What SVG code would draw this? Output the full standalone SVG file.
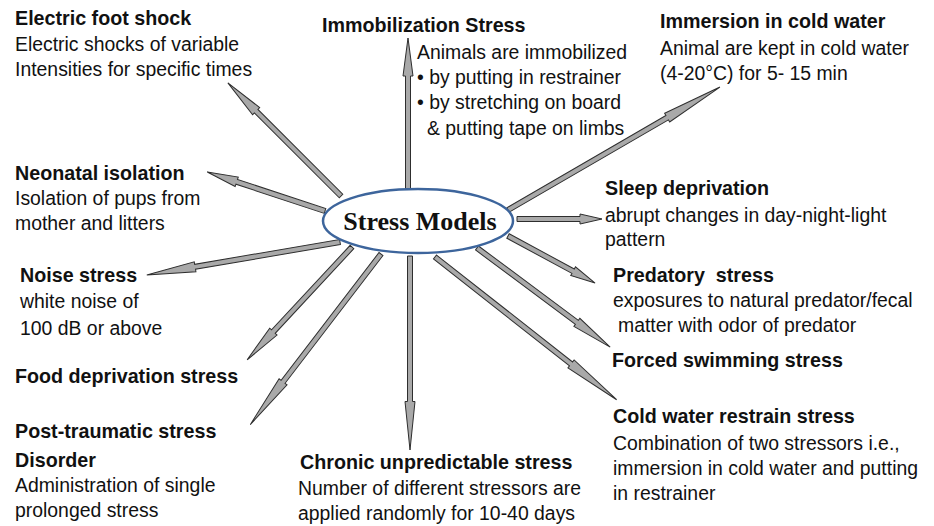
<svg xmlns="http://www.w3.org/2000/svg" width="934" height="526" viewBox="0 0 934 526">
<style>
.t{font-family:"Liberation Sans",Arial,sans-serif;fill:#111;}
.h{font-size:19.7px;font-weight:bold;}
.r{font-size:19.4px;}
.arr{fill:#a9a9a9;stroke:#2e2e2e;stroke-width:1;stroke-linejoin:miter;}
</style>
<rect width="934" height="526" fill="#ffffff"/>
<g id="connectors">
<g transform="translate(408,189) rotate(-90)"><polygon class="arr" points="0,-2.5 113,-2.5 113,-5 151,0 113,5 113,2.5 0,2.5"/></g>
<g transform="translate(341,196) rotate(-135)"><polygon class="arr" points="0,-2.5 120,-2.5 120,-5 160,0 120,5 120,2.5 0,2.5"/></g>
<g transform="translate(325,211) rotate(-161.7)"><polygon class="arr" points="0,-2.5 93,-2.5 93,-5 124,0 93,5 93,2.5 0,2.5"/></g>
<g transform="translate(340,242) rotate(170.3)"><polygon class="arr" points="0,-2.5 147,-2.5 147,-5 196,0 147,5 147,2.5 0,2.5"/></g>
<g transform="translate(352,247) rotate(132.9)"><polygon class="arr" points="0,-2.5 115.5,-2.5 115.5,-5 154,0 115.5,5 115.5,2.5 0,2.5"/></g>
<g transform="translate(381,254) rotate(127.46)"><polygon class="arr" points="0,-2.5 161,-2.5 161,-5 215,0 161,5 161,2.5 0,2.5"/></g>
<g transform="translate(410,256) rotate(90)"><polygon class="arr" points="0,-2.5 145.5,-2.5 145.5,-5 194,0 145.5,5 145.5,2.5 0,2.5"/></g>
<g transform="translate(508,236) rotate(28.38)"><polygon class="arr" points="0,-2.5 74,-2.5 74,-5 99,0 74,5 74,2.5 0,2.5"/></g>
<g transform="translate(477,248) rotate(36.66)"><polygon class="arr" points="0,-2.5 124.5,-2.5 124.5,-5 166,0 124.5,5 124.5,2.5 0,2.5"/></g>
<g transform="translate(435,257) rotate(38.16)"><polygon class="arr" points="0,-2.5 173,-2.5 173,-5 231,0 173,5 173,2.5 0,2.5"/></g>
<g transform="translate(517,219)"><polygon class="arr" points="0,-2.5 63,-2.5 63,-5 85,0 63,5 63,2.5 0,2.5"/></g>
<g transform="translate(508,210) rotate(-30.12)"><polygon class="arr" points="0,-2.5 184,-2.5 184,-5 245,0 184,5 184,2.5 0,2.5"/></g>
</g>
<g id="center">
<ellipse cx="418" cy="221" rx="95" ry="32" fill="#ffffff" stroke="#3d659c" stroke-width="2.5"/>
<text x="420" y="230" text-anchor="middle" font-family="'Liberation Serif','Times New Roman',serif" font-weight="bold" font-size="26" fill="#111">Stress Models</text>
</g>
<g id="electric">
<text class="t h" x="15" y="25">Electric foot shock</text>
<text class="t r" x="15" y="51">Electric shocks of variable</text>
<text class="t r" x="15" y="76">Intensities for specific times</text>
</g>
<g id="immobilization">
<text class="t h" x="322" y="32">Immobilization Stress</text>
<text class="t r" x="417" y="59">Animals are immobilized</text>
<text class="t r" x="417" y="84">• by putting in restrainer</text>
<text class="t r" x="417" y="109">• by stretching on board</text>
<text class="t r" x="427" y="135">&amp; putting tape on limbs</text>
</g>
<g id="immersion">
<text class="t h" x="660" y="28">Immersion in cold water</text>
<text class="t r" x="660" y="55">Animal are kept in cold water</text>
<text class="t r" x="660" y="80">(4-20°C) for 5- 15 min</text>
</g>
<g id="neonatal">
<text class="t h" x="15" y="180">Neonatal isolation</text>
<text class="t r" x="15" y="205">Isolation of pups from</text>
<text class="t r" x="15" y="230">mother and litters</text>
</g>
<g id="sleep">
<text class="t h" x="605" y="195">Sleep deprivation</text>
<text class="t r" x="605" y="222">abrupt changes in day-night-light</text>
<text class="t r" x="605" y="246">pattern</text>
</g>
<g id="noise">
<text class="t h" x="20" y="282">Noise stress</text>
<text class="t r" x="20" y="308">white noise of</text>
<text class="t r" x="20" y="335">100 dB or above</text>
</g>
<g id="predatory">
<text class="t h" x="613" y="282" xml:space="preserve">Predatory  stress</text>
<text class="t r" x="613" y="307">exposures to natural predator/fecal</text>
<text class="t r" x="618" y="332">matter with odor of predator</text>
</g>
<g id="food">
<text class="t h" x="15" y="383">Food deprivation stress</text>
</g>
<g id="forced">
<text class="t h" x="612" y="367">Forced swimming stress</text>
</g>
<g id="ptsd">
<text class="t h" x="15" y="438">Post-traumatic stress</text>
<text class="t h" x="15" y="467">Disorder</text>
<text class="t r" x="15" y="492">Administration of single</text>
<text class="t r" x="15" y="517">prolonged stress</text>
</g>
<g id="coldrestrain">
<text class="t h" x="613" y="423">Cold water restrain stress</text>
<text class="t r" x="613" y="450">Combination of two stressors i.e.,</text>
<text class="t r" x="613" y="475">immersion in cold water and putting</text>
<text class="t r" x="613" y="500">in restrainer</text>
</g>
<g id="chronic">
<text class="t h" x="300" y="469">Chronic unpredictable stress</text>
<text class="t r" x="298" y="495">Number of different stressors are</text>
<text class="t r" x="298" y="520">applied randomly for 10-40 days</text>
</g>
</svg>
